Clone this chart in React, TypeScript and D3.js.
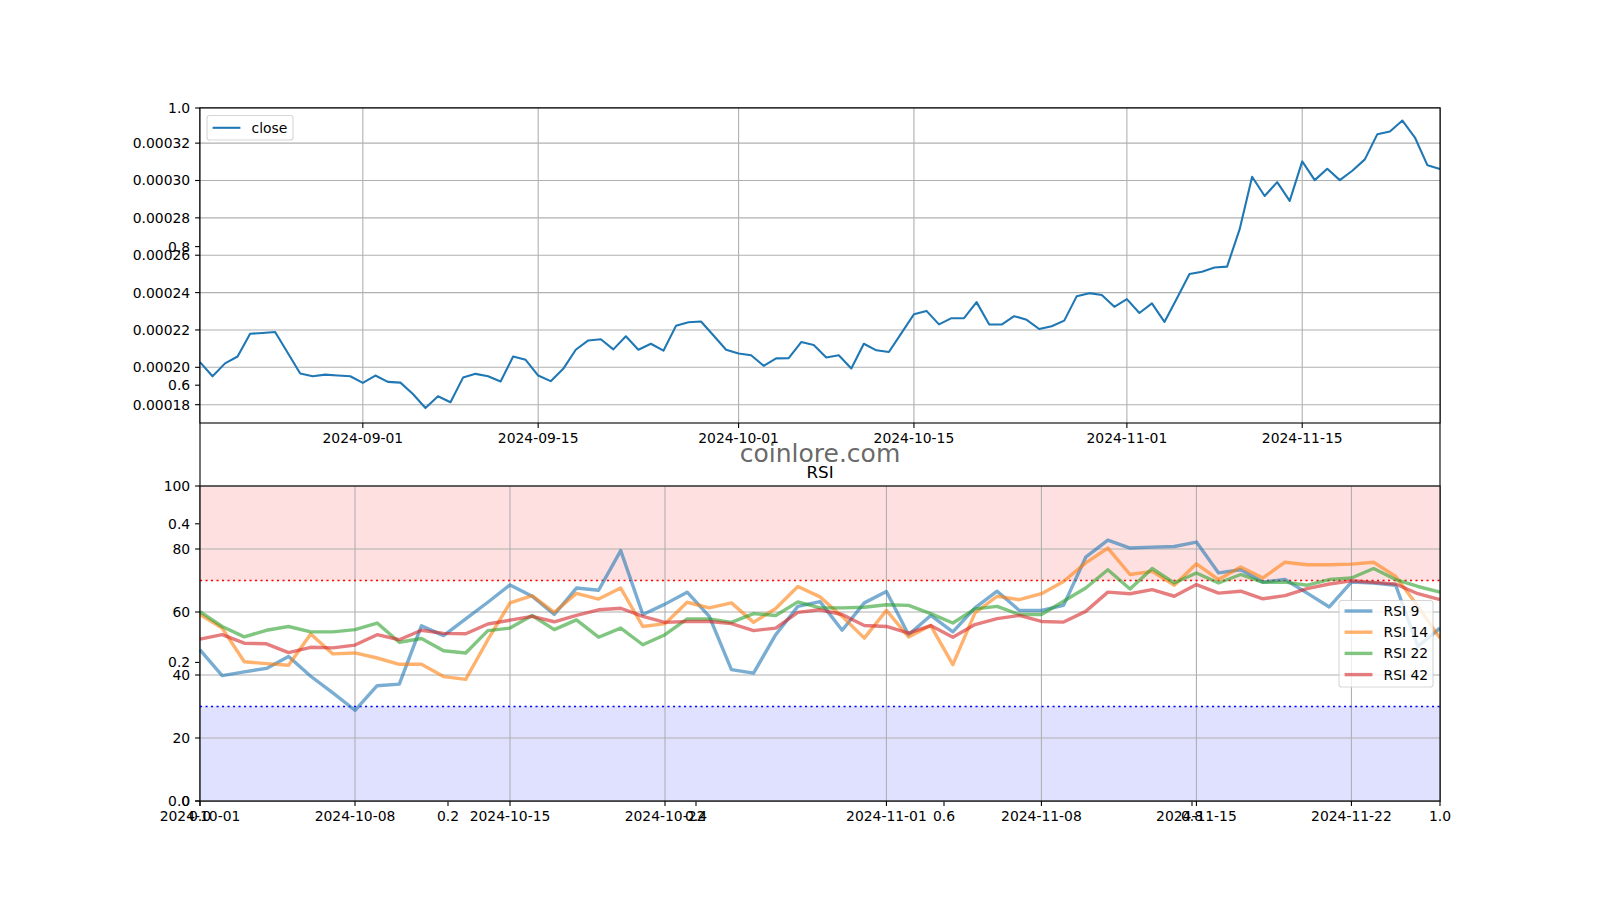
import React from "react";
import * as d3 from "d3";

// ---------- DATA ----------
const closeStart = Date.UTC(2024, 7, 19);
const closeValues = [
  0.0002028, 0.0001952, 0.0002021, 0.0002058, 0.000218, 0.0002184, 0.0002189, 0.0002078, 0.0001967, 0.0001952,
  0.0001961, 0.0001956, 0.0001952, 0.0001917, 0.0001956, 0.0001922, 0.0001918, 0.0001857, 0.0001782, 0.0001845,
  0.0001813, 0.0001945, 0.0001965, 0.0001952, 0.0001924, 0.0002058, 0.000204, 0.0001956, 0.0001926, 0.0001992,
  0.0002094, 0.0002144, 0.000215, 0.0002096, 0.0002166, 0.0002094, 0.0002126, 0.0002089, 0.0002222, 0.0002241,
  0.0002245, 0.000217, 0.0002094, 0.0002074, 0.0002065, 0.0002008, 0.0002048, 0.0002049, 0.0002135, 0.0002119,
  0.0002053, 0.0002065, 0.0001994, 0.0002126, 0.0002091, 0.0002082, 0.0002183, 0.0002284, 0.0002302, 0.000223,
  0.0002263, 0.0002263, 0.0002349, 0.000223, 0.0002229, 0.0002274, 0.0002254, 0.0002205, 0.000222, 0.000225,
  0.0002381, 0.0002397, 0.0002387, 0.0002324, 0.0002365, 0.0002291, 0.0002342, 0.0002243, 0.000237, 0.00025,
  0.0002512, 0.0002534, 0.0002539, 0.0002738, 0.000302, 0.0002917, 0.0002991, 0.0002891, 0.0003102, 0.0003002,
  0.0003063, 0.0003002, 0.0003052, 0.0003113, 0.0003248, 0.0003262, 0.0003321, 0.000323, 0.0003081, 0.0003061,
];

const rsiStart = Date.UTC(2024, 9, 1);
const rsi9 = [48.0, 39.8, 41.0, 42.1, 45.9, 39.6, 34.3, 28.8, 36.6, 37.1, 55.6, 52.5, 57.8, 63.1, 68.6, 65.0, 59.2, 67.6, 66.9, 79.5, 59.2, 62.5, 66.3, 58.6, 41.7, 40.6, 52.8, 61.8, 63.3, 54.2, 62.9, 66.5, 52.8, 58.9, 53.7, 61.3, 66.6, 60.5, 60.5, 62.1, 77.4, 82.8, 80.3, 80.6, 80.8, 82.2, 72.4, 73.4, 69.5, 70.3, 66.0, 61.6, 69.5, 69.2, 68.5, 49.1, 54.9];
const rsi14 = [59.2, 54.9, 44.2, 43.6, 43.1, 53.0, 46.7, 47.0, 45.4, 43.4, 43.4, 39.5, 38.6, 51.2, 62.9, 65.2, 59.9, 65.9, 64.1, 67.6, 55.4, 56.3, 63.1, 61.3, 62.9, 56.7, 61.1, 68.1, 64.8, 58.6, 51.7, 60.5, 52.1, 55.7, 43.3, 59.7, 65.0, 63.9, 65.8, 69.7, 75.6, 80.3, 71.9, 72.9, 68.5, 75.3, 70.3, 74.3, 70.8, 75.8, 75.0, 75.0, 75.2, 75.8, 71.3, 61.8, 51.7];
const rsi22 = [60.1, 55.4, 52.1, 54.2, 55.4, 53.7, 53.7, 54.4, 56.5, 50.4, 51.6, 47.7, 47.0, 54.1, 54.9, 58.9, 54.4, 57.5, 52.0, 54.9, 49.6, 52.8, 57.8, 57.8, 56.7, 59.5, 58.9, 63.2, 61.3, 61.3, 61.5, 62.3, 62.1, 59.5, 56.5, 61.0, 61.8, 59.2, 59.2, 63.4, 67.6, 73.4, 67.3, 73.8, 69.2, 72.4, 69.2, 71.9, 69.4, 69.5, 68.5, 70.3, 70.8, 73.8, 70.3, 68.1, 66.3];
const rsi42 = [51.4, 52.8, 50.1, 49.9, 47.1, 48.8, 48.6, 49.5, 52.8, 51.2, 54.2, 53.2, 53.1, 56.2, 57.4, 58.6, 56.9, 58.9, 60.7, 61.2, 58.6, 56.7, 57.0, 57.0, 56.3, 54.1, 54.9, 59.9, 60.7, 59.2, 55.7, 55.4, 53.3, 55.7, 52.0, 56.0, 57.9, 58.9, 57.0, 56.8, 60.2, 66.3, 65.8, 67.1, 65.0, 68.7, 66.0, 66.6, 64.2, 65.2, 67.4, 68.9, 69.9, 69.4, 68.9, 65.8, 63.9];

const rsiSeries = [
  { name: "RSI 9", values: rsi9, color: "#1f77b4" },
  { name: "RSI 14", values: rsi14, color: "#ff7f0e" },
  { name: "RSI 22", values: rsi22, color: "#2ca02c" },
  { name: "RSI 42", values: rsi42, color: "#d62728" },
];

const closeYTicks = [0.00018, 0.0002, 0.00022, 0.00024, 0.00026, 0.00028, 0.0003, 0.00032];
const closeXTicks = ["2024-09-01", "2024-09-15", "2024-10-01", "2024-10-15", "2024-11-01", "2024-11-15"];
const rsiYTicks = [0, 20, 40, 60, 80, 100];
const rsiXTicks = ["2024-10-01", "2024-10-08", "2024-10-15", "2024-10-22", "2024-11-01", "2024-11-08", "2024-11-15", "2024-11-22"];
const bgTicks = [0, 0.2, 0.4, 0.6, 0.8, 1.0];

// ---------- LAYOUT ----------
const W = 1600, H = 900;
const L = 200, R = 1440;
const topT = 108, topB = 423;
const botT = 486, botB = 801;
const FONT = "DejaVu Sans, sans-serif";
const FS = 13.9;
const TICK = 4.9;
const PAD = 4.9;
const GRID = "#b0b0b0";

const parse = (s: string) => {
  const [y, m, d] = s.split("-").map(Number);
  return new Date(Date.UTC(y, m - 1, d));
};
const fmt = d3.utcFormat("%Y-%m-%d");

export default function App() {
  const closeDates = closeValues.map((_, i) => d3.utcDay.offset(new Date(closeStart), i));
  const rsiDates = rsi9.map((_, i) => d3.utcDay.offset(new Date(rsiStart), i));

  const xTop = d3.scaleUtc().domain([closeDates[0], closeDates[closeDates.length - 1]]).range([L, R]);
  const yTop = d3.scaleLinear().domain([0.0001702, 0.0003388]).range([topB, topT]);
  const xBot = d3.scaleUtc().domain([rsiDates[0], rsiDates[rsiDates.length - 1]]).range([L, R]);
  const yBot = d3.scaleLinear().domain([0, 100]).range([botB, botT]);
  const xBg = d3.scaleLinear().domain([0, 1]).range([L, R]);
  const yBg = d3.scaleLinear().domain([0, 1]).range([botB, topT]);

  const closeLine = d3
    .line<number>()
    .x((_, i) => xTop(closeDates[i]))
    .y((d) => yTop(d));
  const rsiLine = d3
    .line<number>()
    .x((_, i) => xBot(rsiDates[i]))
    .y((d) => yBot(d));

  const fmtTop = (v: number) => v.toFixed(5);

  return (
    <svg
      width={W}
      height={H}
      style={{ position: "absolute", left: 0, top: 0, background: "#fff" }}
      fontFamily={FONT}
    >
      <rect x={0} y={0} width={W} height={H} fill="#fff" />

      {/* background 0..1 axes */}
      <rect x={L} y={topT} width={R - L} height={botB - topT} fill="#fff" stroke="#000" strokeWidth={1.1} />
      {bgTicks.map((t) => (
        <g key={"bgy" + t}>
          <line x1={L - TICK} x2={L} y1={yBg(t)} y2={yBg(t)} stroke="#000" strokeWidth={1.1} />
          <text x={L - TICK - PAD} y={yBg(t)} dy="0.36em" textAnchor="end" fontSize={FS} fill="#000">
            {t.toFixed(1)}
          </text>
        </g>
      ))}
      {bgTicks.map((t) => (
        <g key={"bgx" + t}>
          <line x1={xBg(t)} x2={xBg(t)} y1={botB} y2={botB + TICK} stroke="#000" strokeWidth={1.1} />
          <text x={xBg(t)} y={botB + TICK + PAD + 10.6} textAnchor="middle" fontSize={FS} fill="#000">
            {t.toFixed(1)}
          </text>
        </g>
      ))}

      {/* top price axes */}
      <rect x={L} y={topT} width={R - L} height={topB - topT} fill="#fff" />
      {closeYTicks.map((t) => (
        <line key={"tg" + t} x1={L} x2={R} y1={yTop(t)} y2={yTop(t)} stroke={GRID} strokeWidth={1.1} />
      ))}
      {closeXTicks.map((s) => (
        <line key={"tgx" + s} x1={xTop(parse(s))} x2={xTop(parse(s))} y1={topT} y2={topB} stroke={GRID} strokeWidth={1.1} />
      ))}
      <path d={closeLine(closeValues) || ""} fill="none" stroke="#1f77b4" strokeWidth={2.08} strokeLinejoin="round" />
      <rect x={L} y={topT} width={R - L} height={topB - topT} fill="none" stroke="#000" strokeWidth={1.1} />
      {closeYTicks.map((t) => (
        <g key={"ty" + t}>
          <line x1={L - TICK} x2={L} y1={yTop(t)} y2={yTop(t)} stroke="#000" strokeWidth={1.1} />
          <text x={L - TICK - PAD} y={yTop(t)} dy="0.36em" textAnchor="end" fontSize={FS} fill="#000">
            {fmtTop(t)}
          </text>
        </g>
      ))}
      {closeXTicks.map((s) => (
        <g key={"tx" + s}>
          <line x1={xTop(parse(s))} x2={xTop(parse(s))} y1={topB} y2={topB + TICK} stroke="#000" strokeWidth={1.1} />
          <text x={xTop(parse(s))} y={topB + TICK + PAD + 10.6} textAnchor="middle" fontSize={FS} fill="#000">
            {fmt(parse(s))}
          </text>
        </g>
      ))}
      {/* top legend */}
      <g>
        <rect x={207} y={115.5} width={86} height={24.5} rx={2.8} fill="#fff" fillOpacity={0.8} stroke="#cccccc" strokeOpacity={0.8} strokeWidth={1.1} />
        <line x1={212.6} x2={240.4} y1={127.8} y2={127.8} stroke="#1f77b4" strokeWidth={2.08} />
        <text x={251.5} y={127.8} dy="0.36em" fontSize={FS} fill="#000">
          close
        </text>
      </g>

      {/* bottom RSI axes */}
      <rect x={L} y={botT} width={R - L} height={botB - botT} fill="#fff" />
      <rect x={L} y={yBot(100)} width={R - L} height={yBot(70) - yBot(100)} fill="#ff0000" fillOpacity={0.12} />
      <rect x={L} y={yBot(30)} width={R - L} height={yBot(0) - yBot(30)} fill="#0000ff" fillOpacity={0.12} />
      {rsiYTicks.map((t) => (
        <line key={"bg" + t} x1={L} x2={R} y1={yBot(t)} y2={yBot(t)} stroke={GRID} strokeWidth={1.1} />
      ))}
      {rsiXTicks.map((s) => (
        <line key={"bgx" + s} x1={xBot(parse(s))} x2={xBot(parse(s))} y1={botT} y2={botB} stroke={GRID} strokeWidth={1.1} />
      ))}
      <line x1={L} x2={R} y1={yBot(70)} y2={yBot(70)} stroke="#ff0000" strokeWidth={1.5} strokeDasharray="2.1,3.4" />
      <line x1={L} x2={R} y1={yBot(30)} y2={yBot(30)} stroke="#0000ff" strokeWidth={1.5} strokeDasharray="2.1,3.4" />
      {rsiSeries.map((s) => (
        <path
          key={s.name}
          d={rsiLine(s.values) || ""}
          fill="none"
          stroke={s.color}
          strokeOpacity={0.6}
          strokeWidth={3.4}
          strokeLinejoin="round"
        />
      ))}
      <rect x={L} y={botT} width={R - L} height={botB - botT} fill="none" stroke="#000" strokeWidth={1.1} />
      {rsiYTicks.map((t) => (
        <g key={"by" + t}>
          <line x1={L - TICK} x2={L} y1={yBot(t)} y2={yBot(t)} stroke="#000" strokeWidth={1.1} />
          <text x={L - TICK - PAD} y={yBot(t)} dy="0.36em" textAnchor="end" fontSize={FS} fill="#000">
            {t}
          </text>
        </g>
      ))}
      {rsiXTicks.map((s) => (
        <g key={"bx" + s}>
          <line x1={xBot(parse(s))} x2={xBot(parse(s))} y1={botB} y2={botB + TICK} stroke="#000" strokeWidth={1.1} />
          <text x={xBot(parse(s))} y={botB + TICK + PAD + 10.6} textAnchor="middle" fontSize={FS} fill="#000">
            {fmt(parse(s))}
          </text>
        </g>
      ))}
      <text x={(L + R) / 2} y={botT - 8.3} textAnchor="middle" fontSize={16.7} fill="#000">
        RSI
      </text>
      {/* RSI legend */}
      <g>
        <rect x={1339} y={600.5} width={94} height={86.5} rx={2.8} fill="#fff" fillOpacity={0.8} stroke="#cccccc" strokeOpacity={0.8} strokeWidth={1.1} />
        {rsiSeries.map((s, i) => {
          const yy = 611 + i * 21.2;
          return (
            <g key={"lg" + s.name}>
              <line x1={1344.6} x2={1372.4} y1={yy} y2={yy} stroke={s.color} strokeOpacity={0.6} strokeWidth={3.4} />
              <text x={1383.5} y={yy} dy="0.36em" fontSize={FS} fill="#000">
                {s.name}
              </text>
            </g>
          );
        })}
      </g>

      {/* watermark */}
      <text x={(L + R) / 2} y={461.5} textAnchor="middle" fontSize={25} fill="#555555" fillOpacity={0.9}>
        coinlore.com
      </text>
    </svg>
  );
}
